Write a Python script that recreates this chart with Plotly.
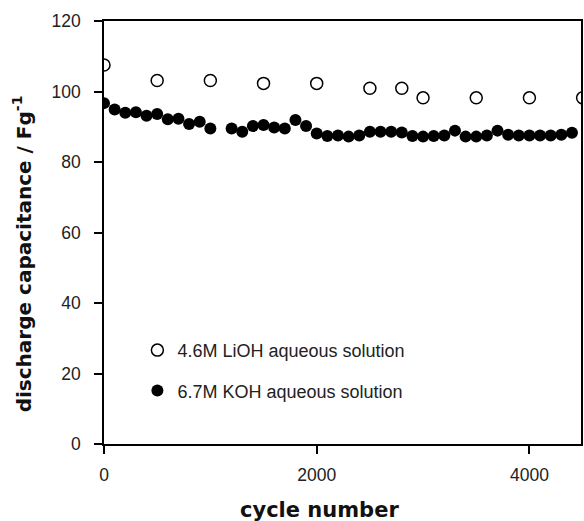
import plotly.graph_objects as go

# ---- data ----
lioh_cycles = [0, 500, 1000, 1500, 2000, 2500, 2800, 3000, 3500, 4000, 4500]
lioh_capacitance = [107.5, 103.1, 103.1, 102.3, 102.3, 100.9, 100.9, 98.2, 98.2, 98.2, 98.2]

koh_cycles = [0, 100, 200, 300, 400, 500, 600, 700, 800, 900, 1000,
              1200, 1300, 1400, 1500, 1600, 1700, 1800, 1900, 2000,
              2100, 2200, 2300, 2400, 2500, 2600, 2700, 2800, 2900, 3000,
              3100, 3200, 3300, 3400, 3500, 3600, 3700, 3800, 3900, 4000,
              4100, 4200, 4300, 4400]
koh_capacitance = [96.7, 94.9, 94.0, 94.1, 93.1, 93.6, 92.1, 92.3, 90.8, 91.4, 89.5,
                   89.5, 88.6, 90.2, 90.5, 89.8, 89.5, 91.9, 90.2, 88.1,
                   87.4, 87.5, 87.2, 87.5, 88.6, 88.6, 88.6, 88.4, 87.4, 87.2,
                   87.4, 87.5, 88.9, 87.2, 87.2, 87.5, 88.9, 87.7, 87.5, 87.5,
                   87.5, 87.5, 87.7, 88.3]

lioh_label = "4.6M LiOH aqueous solution"
koh_label = "6.7M KOH aqueous solution"
x_title = "cycle number"
y_title = "discharge capacitance / Fg<sup>-1</sup>"
x_ticks = [0, 2000, 4000]
y_ticks = [0, 20, 40, 60, 80, 100, 120]

fig = go.Figure()
fig.add_trace(go.Scatter(
    x=lioh_cycles, y=lioh_capacitance, mode="markers", name=lioh_label,
    legendgroup="a",
    marker=dict(symbol="circle", size=12, color="white",
                line=dict(color="black", width=1.5)),
))
fig.add_trace(go.Scatter(
    x=koh_cycles, y=koh_capacitance, mode="markers", name=koh_label,
    legendgroup="b",
    marker=dict(symbol="circle", size=12, color="black",
                line=dict(color="black", width=0)),
))

tick_font = dict(family="Liberation Sans, Arial, sans-serif", size=17.5, color="#222")
title_font = dict(family="DejaVu Sans, sans-serif", size=21, color="#111")

fig.update_layout(
    width=584, height=521,
    margin=dict(l=104, r=1, t=21, b=77),
    paper_bgcolor="white", plot_bgcolor="white",
    showlegend=True,
    legend=dict(
        x=0.07, y=0.265, xanchor="left", yanchor="top",
        bgcolor="rgba(0,0,0,0)", borderwidth=0,
        font=dict(family="Liberation Sans, Arial, sans-serif", size=18, color="#222"),
        traceorder="grouped", tracegroupgap=14,
        itemwidth=30,
    ),
    xaxis=dict(
        range=[0, 4485], tickvals=x_ticks, ticktext=[str(v) for v in x_ticks],
        showgrid=False, zeroline=False,
        showline=True, linecolor="black", linewidth=1.6, mirror=True,
        ticks="outside", ticklen=8, tickwidth=1.6, tickcolor="black",
        tickfont=tick_font, ticklabelstandoff=6,
    ),
    yaxis=dict(
        range=[0, 120], tickvals=y_ticks, ticktext=[str(v) for v in y_ticks],
        showgrid=False, zeroline=False,
        showline=True, linecolor="black", linewidth=1.6, mirror=True,
        ticks="outside", ticklen=8, tickwidth=1.6, tickcolor="black",
        tickfont=tick_font, ticklabelstandoff=10,
    ),
    annotations=[
        dict(text="<b>" + x_title + "</b>", xref="paper", yref="paper",
             x=(320 - 104) / 479, y=-(510 - 444) / 423,
             xanchor="center", yanchor="middle", showarrow=False,
             font=title_font),
        dict(text="<b>" + y_title + "</b>", xref="paper", yref="paper",
             x=-(104 - 22) / 479, y=(444 - 254) / 423, textangle=-90,
             xanchor="center", yanchor="middle", showarrow=False,
             font=dict(family="DejaVu Sans, sans-serif", size=20, color="#111")),
    ],
)

fig.write_html("out.html")
